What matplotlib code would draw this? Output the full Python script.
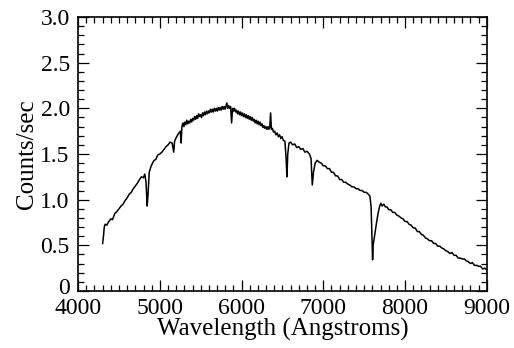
import numpy as np
import matplotlib
matplotlib.use('Agg')
from matplotlib import pyplot as plt
from matplotlib.ticker import MultipleLocator, FuncFormatter
from matplotlib.transforms import offset_copy

# spectrum (wavelength in Angstroms, counts/sec)
wavelength = [4300, 4310, 4320, 4330, 4350, 4375, 4400, 4420, 4450, 4475,
              4500, 4525, 4550, 4575, 4600, 4625, 4650, 4675, 4700, 4725,
              4750, 4775, 4800, 4815, 4830, 4845, 4855, 4870, 4890, 4910,
              4930, 4950, 4975, 5000, 5025, 5050, 5075, 5100, 5125, 5150,
              5170, 5180, 5200, 5225, 5250, 5260,
              5270, 5282, 5294, 5306, 5318, 5330, 5342, 5354, 5366, 5378,
              5390, 5402, 5414, 5426, 5438, 5450, 5462, 5474, 5486, 5498,
              5510, 5522, 5534, 5546, 5558, 5570, 5582, 5594, 5606, 5618,
              5630, 5642, 5654, 5666, 5678, 5690, 5702, 5714, 5726, 5738,
              5750, 5762, 5774, 5786, 5798, 5810, 5820, 5830, 5842, 5854,
              5866, 5878, 5890, 5902, 5914, 5926, 5938, 5950, 5962, 5974,
              5986, 5998, 6010, 6022, 6034, 6046, 6058, 6070, 6082, 6094,
              6106, 6118, 6130, 6142, 6154, 6166, 6178, 6190, 6202, 6214,
              6226, 6238, 6250, 6262, 6274, 6286, 6298, 6310, 6322, 6334,
              6345, 6355, 6365, 6378, 6390, 6405, 6420, 6435, 6450, 6465,
              6480, 6495, 6510, 6530,
              6545, 6555, 6565, 6580, 6600, 6625, 6650, 6675, 6700, 6725,
              6750, 6775, 6800, 6830, 6850, 6865, 6880, 6900, 6925, 6950,
              6975, 7000, 7025, 7050, 7075, 7100, 7125, 7150, 7175, 7200,
              7225, 7250, 7275, 7300, 7325, 7350, 7375, 7400, 7425, 7450,
              7475, 7500, 7525, 7550, 7570, 7585, 7595, 7603, 7610, 7620,
              7635, 7650, 7670, 7690, 7705, 7720, 7740, 7760, 7780, 7800,
              7825, 7850, 7875, 7900, 7925, 7950, 7975, 8000, 8025, 8050,
              8075, 8100, 8125, 8150, 8175, 8200, 8225, 8250, 8275, 8300,
              8325, 8350, 8375, 8400, 8425, 8450, 8475, 8500, 8525, 8550,
              8575, 8600, 8625, 8650, 8675, 8700, 8725, 8750, 8775, 8800,
              8825, 8850, 8875, 8900, 8925, 8950, 8975, 9000]
counts = [0.52, 0.60, 0.70, 0.73, 0.72, 0.76, 0.79, 0.78, 0.85, 0.87,
          0.90, 0.93, 0.95, 0.99, 1.02, 1.06, 1.08, 1.12, 1.15, 1.18,
          1.22, 1.25, 1.24, 1.28, 1.20, 0.93, 1.05, 1.30, 1.36, 1.40,
          1.43, 1.44, 1.49, 1.50, 1.52, 1.55, 1.58, 1.60, 1.63, 1.62,
          1.52, 1.64, 1.68, 1.72, 1.75, 1.62,
          1.80, 1.84, 1.80, 1.85, 1.82, 1.87, 1.83, 1.86, 1.84, 1.88,
          1.85, 1.89, 1.87, 1.91, 1.88, 1.92, 1.89, 1.94, 1.91, 1.93,
          1.90, 1.95, 1.92, 1.96, 1.93, 1.97, 1.94, 1.97, 1.95, 1.99,
          1.96, 1.99, 1.96, 2.00, 1.97, 2.00, 1.97, 2.01, 1.98, 2.01,
          1.98, 2.02, 1.99, 2.02, 1.99, 2.03, 2.06, 2.00, 2.03, 2.00,
          2.02, 1.84, 2.00, 1.97, 2.00, 1.96, 1.98, 1.94, 1.97, 1.93,
          1.96, 1.92, 1.95, 1.91, 1.94, 1.90, 1.93, 1.89, 1.92, 1.88,
          1.91, 1.87, 1.90, 1.86, 1.88, 1.84, 1.87, 1.83, 1.86, 1.82,
          1.85, 1.81, 1.83, 1.79, 1.81, 1.78, 1.80, 1.77, 1.80, 1.77,
          1.79, 1.95, 1.77, 1.78, 1.74, 1.75, 1.71, 1.73, 1.69, 1.71,
          1.67, 1.69, 1.65, 1.64,
          1.45, 1.25, 1.50, 1.62, 1.63, 1.60, 1.61, 1.57, 1.58, 1.55,
          1.56, 1.52, 1.53, 1.50, 1.45, 1.16, 1.30, 1.40, 1.43, 1.41,
          1.40, 1.37, 1.37, 1.34, 1.34, 1.30, 1.30, 1.26, 1.26, 1.22,
          1.22, 1.19, 1.19, 1.17, 1.16, 1.14, 1.14, 1.12, 1.12, 1.10,
          1.10, 1.08, 1.08, 1.06, 1.04, 0.92, 0.60, 0.34, 0.50, 0.56,
          0.65, 0.74, 0.85, 0.93, 0.96, 0.93, 0.95, 0.92, 0.92, 0.89,
          0.89, 0.86, 0.86, 0.83, 0.82, 0.80, 0.79, 0.76, 0.76, 0.73,
          0.72, 0.69, 0.69, 0.65, 0.65, 0.62, 0.61, 0.58, 0.57, 0.55,
          0.55, 0.52, 0.52, 0.49, 0.49, 0.47, 0.46, 0.44, 0.43, 0.41,
          0.42, 0.39, 0.39, 0.36, 0.36, 0.35, 0.35, 0.33, 0.32, 0.30,
          0.31, 0.28, 0.28, 0.27, 0.27, 0.24, 0.25, 0.23]
assert len(wavelength) == len(counts)

plt.rcParams['font.family'] = ['Liberation Serif', 'DejaVu Serif']

fig = plt.figure(figsize=(5.14, 3.48), dpi=100)
ax = fig.add_axes([0.152, 0.164, 0.795, 0.787])

ax.plot(wavelength, counts, color='black', lw=1.1)

ax.set_xlim(4000, 9000)
ax.set_ylim(0, 3.0)
ax.xaxis.set_major_locator(MultipleLocator(1000))
ax.xaxis.set_minor_locator(MultipleLocator(100))
ax.yaxis.set_major_locator(MultipleLocator(0.5))
ax.yaxis.set_minor_locator(MultipleLocator(0.1))
ax.yaxis.set_major_formatter(FuncFormatter(lambda v, p: '0' if abs(v) < 1e-9 else '%.1f' % v))

ax.tick_params(which='both', direction='in', top=True, right=True,
               labelsize=17, width=0.9, colors='black')
ax.tick_params(which='major', length=8)
ax.tick_params(which='minor', length=4.5)
ax.tick_params(axis='x', which='major', pad=5)
ax.tick_params(axis='y', which='major', pad=6)
for s in ax.spines.values():
    s.set_linewidth(1.2)

ax.set_xlabel('Wavelength (Angstroms)', fontsize=18, labelpad=-1)
ax.set_ylabel('Counts/sec', fontsize=18, labelpad=2)

# lift the "0" a little so it clears the 4000 below it
fig.canvas.draw()
for t in ax.yaxis.get_major_ticks():
    if abs(t.get_loc()) < 1e-9:
        t.label1.set_transform(offset_copy(t.label1.get_transform(), fig=fig, y=5, units='dots'))

fig.savefig('out.png', dpi=100)
